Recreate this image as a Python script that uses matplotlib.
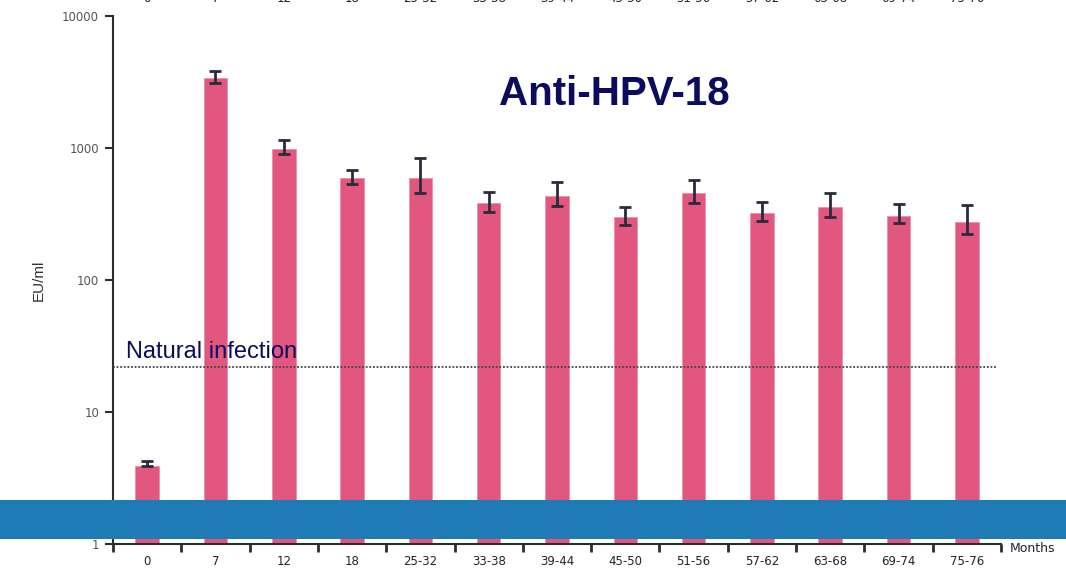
import numpy as np
import matplotlib
matplotlib.use("Agg")
import matplotlib.pyplot as plt
from matplotlib.patches import Rectangle
from matplotlib.transforms import blended_transform_factory

# data (EU/ml, log scale)
months = ["0", "7", "12", "18", "25-32", "33-38", "39-44", "45-50",
          "51-56", "57-62", "63-68", "69-74", "75-76"]
gmt = [3.9, 3370, 990, 593, 597, 381, 431, 299, 454, 320, 356, 304, 274]
err_low = [3.9, 3100, 896, 531, 454, 326, 362, 259, 381, 279, 299, 269, 222]
err_high = [4.25, 3810, 1143, 686, 836, 462, 550, 355, 569, 388, 454, 375, 368]
natural_infection = 21.8
y_ticks = [1, 10, 100, 1000, 10000]

BAR = "#E1577F"
NAVY = "#0C0C5E"
AXIS = "#2b2b33"

fig = plt.figure(figsize=(10.66, 5.68), dpi=100)
ax = fig.add_axes([113 / 1066, 24 / 568, (1001 - 113) / 1066, (544 - 16) / 568])

x = np.arange(len(months))
gmt_a = np.array(gmt)
yerr = [gmt_a - np.array(err_low), np.array(err_high) - gmt_a]
ax.bar(x, gmt, width=0.345, color=BAR, edgecolor="#EE8FAA", linewidth=0.6, zorder=2)
ax.errorbar(x, gmt, yerr=yerr, fmt="none", ecolor="#2a2a3a", elinewidth=2,
            capsize=4, capthick=2, zorder=3)

ax.set_yscale("log")
ax.set_ylim(1, 10000)
ax.set_xlim(-0.5, len(months) - 0.5)
ax.set_yticks(y_ticks)
ax.set_yticklabels([str(v) for v in y_ticks])
ax.yaxis.set_minor_locator(matplotlib.ticker.NullLocator())
ax.tick_params(axis="y", direction="out", length=6, width=1.5, color=AXIS,
               labelsize=8.5, labelcolor="#555555", pad=4)

# labels at bar centres, tick marks at category boundaries
ax.set_xticks(x)
ax.set_xticklabels(months)
ax.set_xticks(np.arange(len(months) + 1) - 0.5, minor=True)
ax.tick_params(axis="x", which="major", length=0, labelsize=8.5,
               labelcolor="#222230", pad=8)
ax.tick_params(axis="x", which="minor", direction="out", length=6, width=2,
               color=AXIS)

for s in ["top", "right"]:
    ax.spines[s].set_visible(False)
for s in ["left", "bottom"]:
    ax.spines[s].set_color(AXIS)
    ax.spines[s].set_linewidth(1.5)

ax.set_ylabel("EU/ml", family="Liberation Sans", fontsize=11, color="#333333",
              labelpad=12)

# natural infection threshold
ax.plot([-0.5, 12.44], [natural_infection] * 2, color="#444444", linestyle=(0, (1, 1)),
        linewidth=1.3, clip_on=False, zorder=4)
ax.text(-0.31, 25.5, "Natural infection", family="Liberation Sans",
        fontsize=17, color=NAVY, va="baseline", ha="left", zorder=5)

fig.text(614 / 1066, 1 - 94 / 568, "Anti-HPV-18", family="Liberation Sans", fontsize=29,
         fontweight="bold", color=NAVY, ha="center", va="center")

fig.text(1010 / 1066, 1 - 549 / 568, "Months", fontsize=9, color="#222230",
         ha="left", va="center")

# duplicate category labels clipped at the top edge
trans = blended_transform_factory(ax.transData, fig.transFigure)
for xi, lab in zip(x, months):
    fig.text(xi, 1.002, lab, transform=trans, fontsize=8.5, color="#222230",
             ha="center", va="center")

# blue band overlaid across the bottom of the slide
fig.patches.append(Rectangle((0, 1 - 539 / 568), 1, 39 / 568, transform=fig.transFigure,
                             facecolor="#1F7BB6", edgecolor="none", zorder=10))

fig.savefig("out.png", dpi=100)
